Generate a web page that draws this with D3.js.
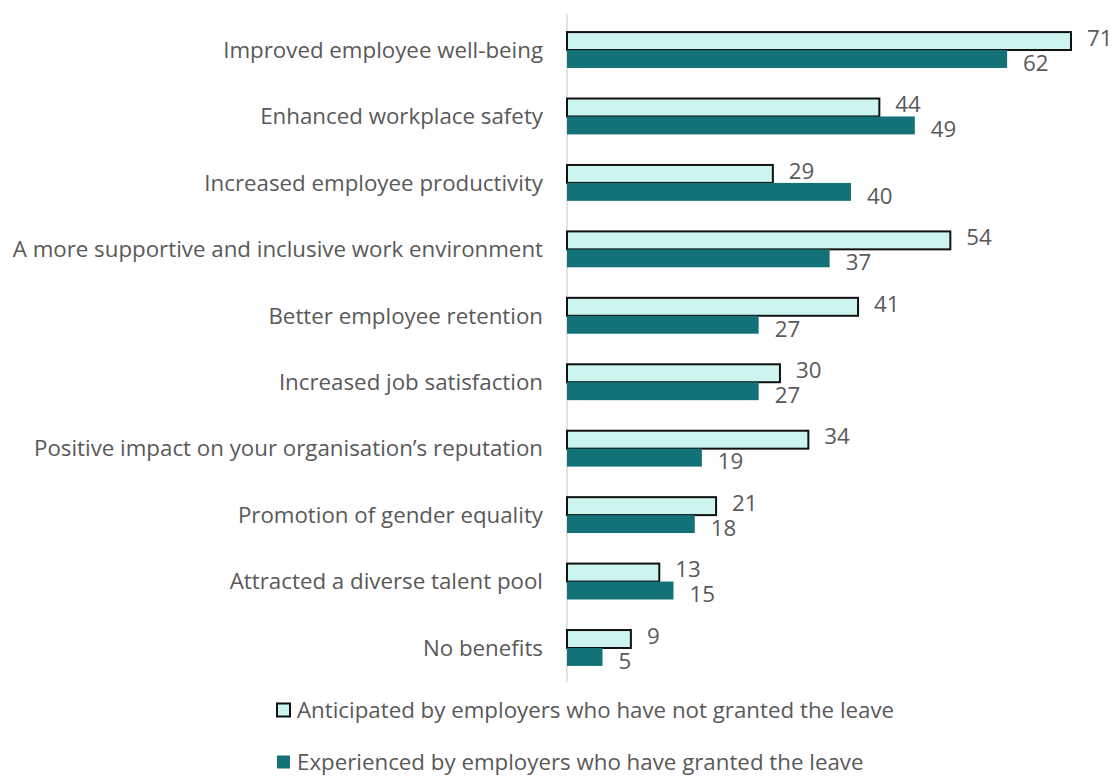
<!DOCTYPE html>
<html>
<head>
<meta charset="utf-8">
<script src="https://cdn.jsdelivr.net/npm/d3@7"></script>
<style>
  body { margin: 0; background: #fff; }
  text { font-family: "Open Sans", Lato, sans-serif; fill: #595959; }
</style>
</head>
<body>
<div id="app"></div>
<script>
// DATA
const categories = [
  'Improved employee well-being',
  'Enhanced workplace safety',
  'Increased employee productivity',
  'A more supportive and inclusive work environment',
  'Better employee retention',
  'Increased job satisfaction',
  'Positive impact on your organisation\u2019s reputation',
  'Promotion of gender equality',
  'Attracted a diverse talent pool',
  'No benefits'
];
const anticipated = [71, 44, 29, 54, 41, 30, 34, 21, 13, 9];
const experienced = [62, 49, 40, 37, 27, 27, 19, 18, 15, 5];
const seriesNames = [
  'Anticipated by employers who have not granted the leave',
  'Experienced by employers who have granted the leave'
];

// LAYOUT
const W = 1116, H = 776;
const axisX = 567;
const LIGHT = '#ccf5ef';
const DARK = '#137277';
const FS = '22.3px';

const svg = d3.select('#app')
  .append('svg')
  .attr('width', W)
  .attr('height', H);

const x = d3.scaleLinear().domain([0, 71]).range([axisX, 1071]);
const y = d3.scaleBand().domain(categories).range([16.8, 681.2]).paddingInner(0.46).paddingOuter(0.23);
const sub = d3.scaleBand().domain([0, 1]).range([0, y.bandwidth()]);

// axis line
svg.append('line')
  .attr('x1', axisX).attr('x2', axisX)
  .attr('y1', 14).attr('y2', 682)
  .attr('stroke', '#d9d9d9').attr('stroke-width', 1.5);

// category labels
const yAxis = d3.axisLeft(y).tickSize(0).tickPadding(0);
const gAxis = svg.append('g')
  .attr('transform', `translate(${axisX - 24},0)`)
  .call(yAxis);
gAxis.select('.domain').remove();
gAxis.selectAll('text')
  .attr('fill', '#595959')
  .style('font-family', '"Open Sans", Lato, sans-serif')
  .style('font-size', FS)
  .attr('dy', '0.35em');

const rows = categories.map((c, i) => ({ c, a: anticipated[i], e: experienced[i] }));

// anticipated bars
svg.selectAll('.bar-a')
  .data(rows)
  .enter()
    .append('rect')
    .attr('class', 'bar-a')
    .attr('x', axisX)
    .attr('y', d => y(d.c) + sub(0))
    .attr('width', d => x(d.a) - axisX)
    .attr('height', sub.bandwidth())
    .attr('fill', LIGHT)
    .attr('stroke', '#111')
    .attr('stroke-width', 2);

// experienced bars
svg.selectAll('.bar-e')
  .data(rows)
  .enter()
    .append('rect')
    .attr('class', 'bar-e')
    .attr('x', axisX)
    .attr('y', d => y(d.c) + sub(1))
    .attr('width', d => x(d.e) - axisX)
    .attr('height', sub.bandwidth())
    .attr('fill', DARK);

// value labels
svg.selectAll('.lbl-a')
  .data(rows)
  .enter()
    .append('text')
    .attr('x', d => x(d.a) + 16)
    .attr('y', d => y(d.c) + sub(0) + sub.bandwidth() / 2 - 3)
    .attr('dy', '0.35em')
    .style('font-size', FS)
    .text(d => d.a);

svg.selectAll('.lbl-e')
  .data(rows)
  .enter()
    .append('text')
    .attr('x', d => x(d.e) + 16)
    .attr('y', d => y(d.c) + sub(1) + sub.bandwidth() / 2 + 4)
    .attr('dy', '0.35em')
    .style('font-size', FS)
    .text(d => d.e);

// legend
const legend = svg.selectAll('.legend')
  .data(seriesNames)
  .enter()
    .append('g')
    .attr('transform', (d, i) => `translate(277,${710 + i * 52})`);

legend.append('rect')
  .attr('x', 0).attr('y', -6.5)
  .attr('width', 13).attr('height', 13)
  .attr('fill', (d, i) => i === 0 ? LIGHT : DARK)
  .attr('stroke', (d, i) => i === 0 ? '#111' : 'none')
  .attr('stroke-width', 2);

legend.append('text')
  .attr('x', 20)
  .attr('dy', '0.35em')
  .style('font-size', FS)
  .text(d => d);
</script>
</body>
</html>
